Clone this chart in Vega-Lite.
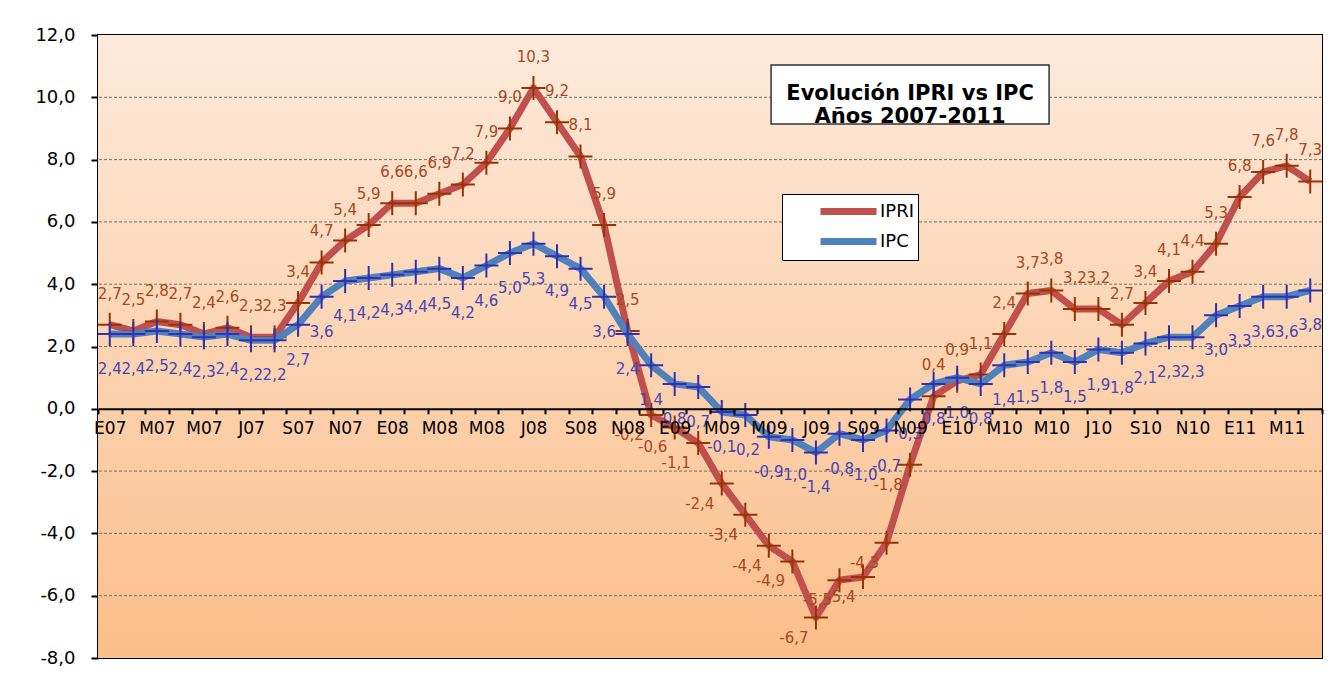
{
  "$schema": "https://vega.github.io/schema/vega-lite/v6.json",
  "width": 1224,
  "height": 623,
  "autosize": {"type": "none"},
  "padding": {"left": 98, "top": 35, "right": 9, "bottom": 19},
  "background": "white",
  "datasets": {
    "serie": [
      {"mes":"2007-01","IPRI":2.7,"IPC":2.4},{"mes":"2007-02","IPRI":2.5,"IPC":2.4},{"mes":"2007-03","IPRI":2.8,"IPC":2.5},{"mes":"2007-04","IPRI":2.7,"IPC":2.4},
      {"mes":"2007-05","IPRI":2.4,"IPC":2.3},{"mes":"2007-06","IPRI":2.6,"IPC":2.4},{"mes":"2007-07","IPRI":2.3,"IPC":2.2},{"mes":"2007-08","IPRI":2.3,"IPC":2.2},
      {"mes":"2007-09","IPRI":3.4,"IPC":2.7},{"mes":"2007-10","IPRI":4.7,"IPC":3.6},{"mes":"2007-11","IPRI":5.4,"IPC":4.1},{"mes":"2007-12","IPRI":5.9,"IPC":4.2},
      {"mes":"2008-01","IPRI":6.6,"IPC":4.3},{"mes":"2008-02","IPRI":6.6,"IPC":4.4},{"mes":"2008-03","IPRI":6.9,"IPC":4.5},{"mes":"2008-04","IPRI":7.2,"IPC":4.2},
      {"mes":"2008-05","IPRI":7.9,"IPC":4.6},{"mes":"2008-06","IPRI":9.0,"IPC":5.0},{"mes":"2008-07","IPRI":10.3,"IPC":5.3},{"mes":"2008-08","IPRI":9.2,"IPC":4.9},
      {"mes":"2008-09","IPRI":8.1,"IPC":4.5},{"mes":"2008-10","IPRI":5.9,"IPC":3.6},{"mes":"2008-11","IPRI":2.5,"IPC":2.4},{"mes":"2008-12","IPRI":-0.2,"IPC":1.4},
      {"mes":"2009-01","IPRI":-0.6,"IPC":0.8},{"mes":"2009-02","IPRI":-1.1,"IPC":0.7},{"mes":"2009-03","IPRI":-2.4,"IPC":-0.1},{"mes":"2009-04","IPRI":-3.4,"IPC":-0.2},
      {"mes":"2009-05","IPRI":-4.4,"IPC":-0.9},{"mes":"2009-06","IPRI":-4.9,"IPC":-1.0},{"mes":"2009-07","IPRI":-6.7,"IPC":-1.4},{"mes":"2009-08","IPRI":-5.5,"IPC":-0.8},
      {"mes":"2009-09","IPRI":-5.4,"IPC":-1.0},{"mes":"2009-10","IPRI":-4.3,"IPC":-0.7},{"mes":"2009-11","IPRI":-1.8,"IPC":0.3},{"mes":"2009-12","IPRI":0.4,"IPC":0.8},
      {"mes":"2010-01","IPRI":0.9,"IPC":1.0},{"mes":"2010-02","IPRI":1.1,"IPC":0.8},{"mes":"2010-03","IPRI":2.4,"IPC":1.4},{"mes":"2010-04","IPRI":3.7,"IPC":1.5},
      {"mes":"2010-05","IPRI":3.8,"IPC":1.8},{"mes":"2010-06","IPRI":3.2,"IPC":1.5},{"mes":"2010-07","IPRI":3.2,"IPC":1.9},{"mes":"2010-08","IPRI":2.7,"IPC":1.8},
      {"mes":"2010-09","IPRI":3.4,"IPC":2.1},{"mes":"2010-10","IPRI":4.1,"IPC":2.3},{"mes":"2010-11","IPRI":4.4,"IPC":2.3},{"mes":"2010-12","IPRI":5.3,"IPC":3.0},
      {"mes":"2011-01","IPRI":6.8,"IPC":3.3},{"mes":"2011-02","IPRI":7.6,"IPC":3.6},{"mes":"2011-03","IPRI":7.8,"IPC":3.6},{"mes":"2011-04","IPRI":7.3,"IPC":3.8}
    ],
    "rejilla": [{"g":-6},{"g":-4},{"g":-2},{"g":2},{"g":4},{"g":6},{"g":8},{"g":10}]
  },
  "data": {"name": "serie"},
  "layer": [
    {
      "data": {"values": [{}]},
      "mark": {"type": "rect", "color": {"gradient": "linear", "x1": 0, "y1": 0, "x2": 0, "y2": 1, "stops": [{"offset": 0, "color": "#FDEADB"}, {"offset": 1, "color": "#FBBE8A"}]}},
      "encoding": {"y": {"datum": -8, "type": "quantitative"}, "y2": {"datum": 12}}
    },
    {
      "data": {"name": "rejilla"},
      "mark": {"type": "rule", "color": "#555", "strokeDash": [3, 2], "strokeWidth": 0.8},
      "encoding": {"y": {"field": "g", "type": "quantitative"}}
    },
    {
      "mark": {"type": "line", "strokeWidth": 7, "strokeJoin": "round"},
      "encoding": {
        "x": {
          "field": "mes", "type": "ordinal",
          "scale": {"type": "band", "paddingInner": 0, "paddingOuter": 0},
          "axis": {
            "title": null, "orient": "bottom", "offset": -249.2, "zindex": 1,
            "tickBand": "extent",
            "tickSize": 5, "tickWidth": 2, "tickColor": "#000",
            "domainColor": "#000", "domainWidth": 2,
            "labelAngle": 0, "labelOverlap": false, "labelPadding": 7,
            "labelFontSize": 17, "labelColor": "#000",
            "labelExpr": "isString(datum.value) ? ((toNumber(slice(datum.value,5)) % 2 == 1) ? ['E','F','M','A','M','J','J','A','S','O','N','D'][toNumber(slice(datum.value,5))-1] + slice(datum.value,2,4) : '') : ''"
          }
        },
        "y": {"field": "IPRI", "type": "quantitative",
          "scale": {"domain": [-8, 12], "nice": false, "zero": false},
          "axis": {
            "title": null, "values": [-8,-6,-4,-2,0,2,4,6,8,10,12], "format": ".1f",
            "labelFontSize": 18, "labelColor": "#000", "labelPadding": 16,
            "tickSize": 7, "tickWidth": 2, "tickColor": "#000",
            "domainColor": "#000", "domainWidth": 2.5, "grid": false
          }
        },
        "color": {
          "datum": "IPRI", "type": "nominal",
          "scale": {"domain": ["IPRI", "IPC"], "range": ["#C0504D", "#4F81BD"]},
          "legend": {
            "title": null, "orient": "none", "legendX": 684, "legendY": 159,
            "fillColor": "white", "strokeColor": "#000",
            "padding": 4, "rowPadding": 1,
            "symbolType": "M-2.8,0L2.8,0", "symbolSize": 400, "symbolStrokeWidth": 7,
            "symbolOffset": 49, "labelOffset": 18,
            "labelFontSize": 18, "labelColor": "#000",
            "labelExpr": "datum.label + '\u00a0\u00a0\u00a0\u00a0\u00a0\u00a0\u00a0'"
          }
        }
      }
    },
    {
      "mark": {"type": "point", "shape": "M-1,0L1,0M0,-1L0,1", "size": 576, "filled": false, "stroke": "#993300", "strokeWidth": 2, "opacity": 1},
      "encoding": {
        "x": {"field": "mes", "type": "ordinal"},
        "y": {"field": "IPRI", "type": "quantitative"}
      }
    },
    {
      "mark": {"type": "line", "strokeWidth": 7, "strokeJoin": "round"},
      "encoding": {
        "x": {"field": "mes", "type": "ordinal"},
        "y": {"field": "IPC", "type": "quantitative"},
        "color": {"datum": "IPC", "type": "nominal"}
      }
    },
    {
      "mark": {"type": "point", "shape": "M-1,0L1,0M0,-1L0,1", "size": 576, "filled": false, "stroke": "#3030B0", "strokeWidth": 2, "opacity": 1},
      "encoding": {
        "x": {"field": "mes", "type": "ordinal"},
        "y": {"field": "IPC", "type": "quantitative"}
      }
    },
    {
      "transform": [{"filter": "datum.IPRI >= 0"}],
      "mark": {"type": "text", "dy": -31, "fontSize": 15, "color": "#A8481C", "baseline": "middle"},
      "encoding": {
        "x": {"field": "mes", "type": "ordinal"},
        "y": {"field": "IPRI", "type": "quantitative"},
        "text": {"field": "IPRI", "type": "quantitative", "format": ".1f"}
      }
    },
    {
      "transform": [{"filter": "datum.IPRI < 0"}],
      "mark": {"type": "text", "dx": -22, "dy": 20, "fontSize": 15, "color": "#A8481C", "baseline": "middle"},
      "encoding": {
        "x": {"field": "mes", "type": "ordinal"},
        "y": {"field": "IPRI", "type": "quantitative"},
        "text": {"field": "IPRI", "type": "quantitative", "format": ".1f"}
      }
    },
    {
      "mark": {"type": "text", "dy": 35, "fontSize": 15, "color": "#4545B5", "baseline": "middle"},
      "encoding": {
        "x": {"field": "mes", "type": "ordinal"},
        "y": {"field": "IPC", "type": "quantitative"},
        "text": {"field": "IPC", "type": "quantitative", "format": ".1f"}
      }
    },
    {
      "data": {"values": [{}]},
      "mark": {"type": "point", "shape": "M-1,-0.2122L1,-0.2122L1,0.2122L-1,0.2122Z", "size": 77284, "filled": true, "fill": "white", "stroke": "#333", "strokeWidth": 1.5, "opacity": 1},
      "encoding": {"x": {"datum": "2009-11", "type": "ordinal"}, "y": {"datum": 10.09, "type": "quantitative"}}
    },
    {
      "data": {"values": [{}]},
      "mark": {"type": "text", "text": ["Evolución IPRI vs IPC", "Años 2007-2011"], "fontSize": 21, "fontWeight": "bold", "lineHeight": 23, "baseline": "middle", "align": "center", "color": "#000"},
      "encoding": {"x": {"datum": "2009-11", "type": "ordinal"}, "y": {"datum": 10.09, "type": "quantitative"}}
    }
  ],
  "config": {
    "font": "DejaVu Sans",
    "locale": {"number": {"decimal": ",", "thousands": ".", "grouping": [3], "currency": ["", " €"], "minus": "-"}},
    "view": {"stroke": "#000", "strokeWidth": 2}
  }
}
